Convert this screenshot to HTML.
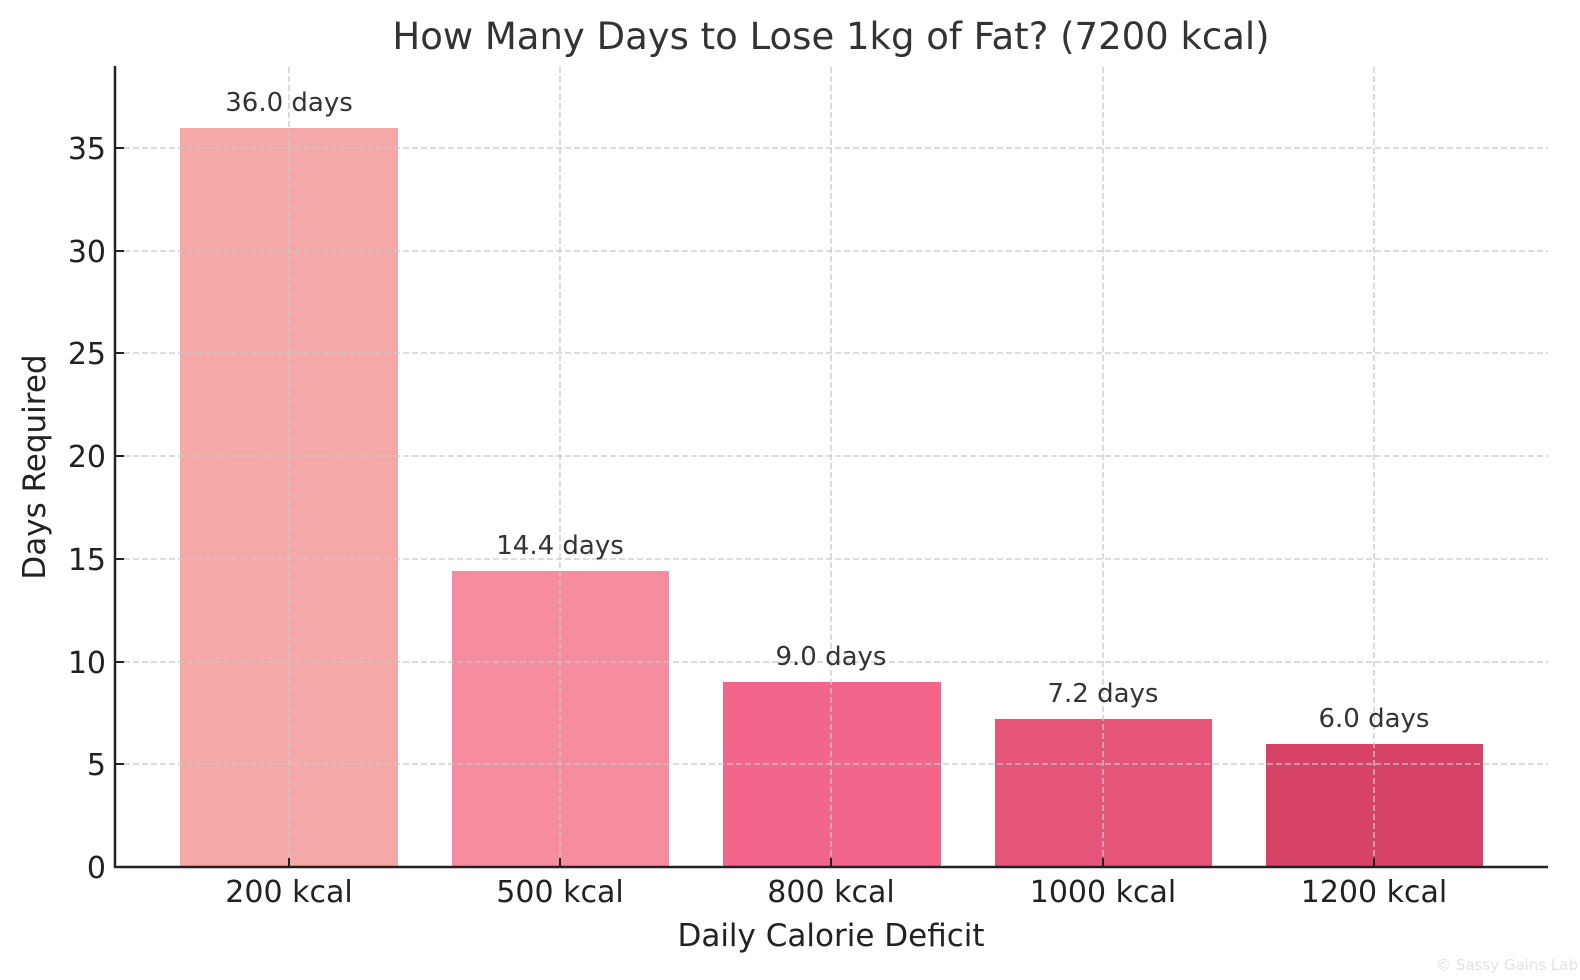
<!DOCTYPE html>
<html><head><meta charset="utf-8"><style>
body{margin:0;background:#fff}
svg{display:block;font-family:"DejaVu Sans","Liberation Sans",sans-serif}
</style></head><body>
<svg width="1580" height="980" viewBox="0 0 1580 980">
<text x="831" y="49" font-size="37" fill="#333" text-anchor="middle">How Many Days to Lose 1kg of Fat? (7200 kcal)</text>
<g>
<rect x="180" y="128" width="218" height="739" fill="#f5a8a8"/>
<rect x="452" y="571" width="217" height="296" fill="#f58ca0"/>
<rect x="723" y="682" width="218" height="185" fill="#f2668b"/>
<rect x="995" y="719" width="217" height="148" fill="#e55479"/>
<rect x="1266" y="744" width="217" height="123" fill="#d74366"/>
</g>
<g stroke="#c8c8c8" stroke-width="1.3" stroke-dasharray="6,3">
<line x1="115" x2="1548" y1="148" y2="148"/>
<line x1="115" x2="1548" y1="251" y2="251"/>
<line x1="115" x2="1548" y1="353" y2="353"/>
<line x1="115" x2="1548" y1="456" y2="456"/>
<line x1="115" x2="1548" y1="559" y2="559"/>
<line x1="115" x2="1548" y1="662" y2="662"/>
<line x1="115" x2="1548" y1="764" y2="764"/>
<line y1="67" y2="867" x1="289" x2="289"/>
<line y1="67" y2="867" x1="560" x2="560"/>
<line y1="67" y2="867" x1="831" x2="831"/>
<line y1="67" y2="867" x1="1103" x2="1103"/>
<line y1="67" y2="867" x1="1374" x2="1374"/>
</g>
<g stroke="#222" stroke-width="2.5">
<line x1="115" x2="115" y1="66" y2="868"/>
<line x1="114" x2="1548" y1="867" y2="867"/>
</g>
<g stroke="#222" stroke-width="2">
<line x1="115" x2="124" y1="148" y2="148"/><line x1="115" x2="124" y1="251" y2="251"/><line x1="115" x2="124" y1="353" y2="353"/><line x1="115" x2="124" y1="456" y2="456"/><line x1="115" x2="124" y1="559" y2="559"/><line x1="115" x2="124" y1="662" y2="662"/><line x1="115" x2="124" y1="764" y2="764"/>
<line y1="867" y2="858" x1="289" x2="289"/><line y1="867" y2="858" x1="560" x2="560"/><line y1="867" y2="858" x1="831" x2="831"/><line y1="867" y2="858" x1="1103" x2="1103"/><line y1="867" y2="858" x1="1374" x2="1374"/>
</g>
<g font-size="30" fill="#222" text-anchor="end">
<text x="106" y="159">35</text><text x="106" y="262">30</text><text x="106" y="364">25</text><text x="106" y="467">20</text><text x="106" y="570">15</text><text x="106" y="673">10</text><text x="106" y="775">5</text><text x="106" y="878">0</text>
</g>
<g font-size="30" fill="#222" text-anchor="middle">
<text x="289" y="902">200 kcal</text><text x="560" y="902">500 kcal</text><text x="831" y="902">800 kcal</text><text x="1103" y="902">1000 kcal</text><text x="1374" y="902">1200 kcal</text>
</g>
<g font-size="26" fill="#333" text-anchor="middle">
<text x="289" y="111">36.0 days</text><text x="560" y="554">14.4 days</text><text x="831" y="665">9.0 days</text><text x="1103" y="702">7.2 days</text><text x="1374" y="727">6.0 days</text>
</g>
<text x="831" y="946" font-size="31" fill="#222" text-anchor="middle">Daily Calorie Deficit</text>
<text transform="translate(45,467) rotate(-90)" font-size="31" fill="#222" text-anchor="middle">Days Required</text>
<text x="1578" y="970" font-size="15" fill="#e3e3e3" text-anchor="end">© Sassy Gains Lab</text>
</svg>
</body></html>
